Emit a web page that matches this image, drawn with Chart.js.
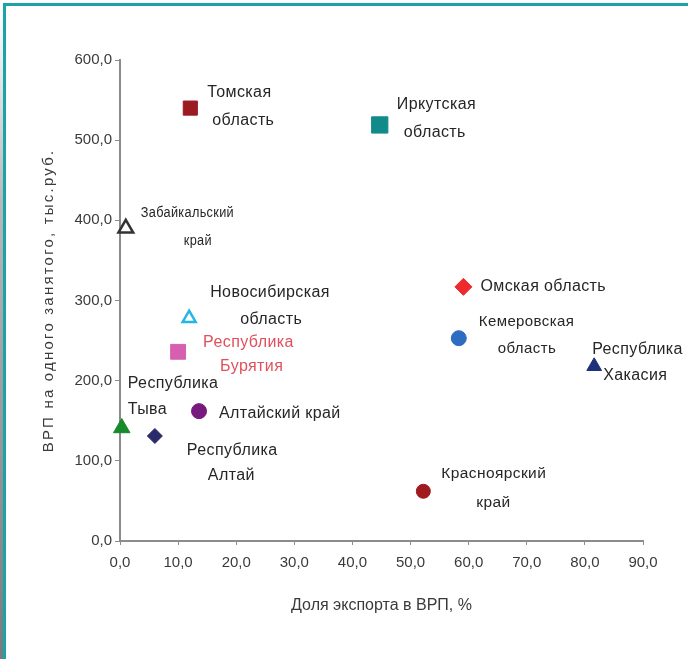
<!DOCTYPE html>
<html lang="ru">
<head>
<meta charset="utf-8">
<title>ВРП на одного занятого и доля экспорта в ВРП</title>
<script src="https://cdn.jsdelivr.net/npm/chart.js@4.4.1/dist/chart.umd.min.js"></script>
<style>
  html, body { margin: 0; padding: 0; background: #fff; }
  #wrap { position: relative; width: 688px; height: 659px; overflow: hidden; }
  #chart { position: absolute; left: 0; top: 0; }
  .frame { position: absolute; background: #1ca3a9; }
  #frameTop { left: 3px; top: 3px; width: 685px; height: 3px; }
  #frameLeft { left: 3px; top: 3px; width: 3px; height: 656px; }
  #shade { position: absolute; left: 0; top: 6px; width: 3px; height: 653px;
           background: linear-gradient(to bottom, #ffffff 0%, #b8b8b8 30%, #7a7a7a 100%); }
</style>
</head>
<body>
<div id="wrap">
  <canvas id="chart" width="688" height="659"></canvas>
  <div id="shade"></div>
  <div class="frame" id="frameTop"></div>
  <div class="frame" id="frameLeft"></div>
</div>
<script>
// Регионы Сибирского федерального округа
const regions = [
  'Томская область', 'Иркутская область', 'Забайкальский край',
  'Новосибирская область', 'Республика Бурятия', 'Омская область',
  'Кемеровская область', 'Республика Хакасия', 'Республика Тыва',
  'Алтайский край', 'Республика Алтай', 'Красноярский край'
];
// Доля экспорта в ВРП, %
const exportShare = [12.1, 44.7, 1.0, 11.9, 10.0, 59.1, 58.3, 81.6, 0.3, 13.6, 6.0, 52.2];
// ВРП на одного занятого, тыс. руб.
const grpPerWorker = [540, 519, 390, 278, 236, 317, 253, 218, 141, 162, 131, 62];

// Подписи точек (по строкам)
const labelLines = [
  ['Томская', 'область'], ['Иркутская', 'область'], ['Забайкальский', 'край'],
  ['Новосибирская', 'область'], ['Республика', 'Бурятия'], ['Омская область'],
  ['Кемеровская', 'область'], ['Республика', 'Хакасия'], ['Республика', 'Тыва'],
  ['Алтайский край'], ['Республика', 'Алтай'], ['Красноярский', 'край']
];

const xTickLabels = ['0,0', '10,0', '20,0', '30,0', '40,0', '50,0', '60,0', '70,0', '80,0', '90,0'];
const yTickLabels = ['0,0', '100,0', '200,0', '300,0', '400,0', '500,0', '600,0'];
const xTitle = 'Доля экспорта в ВРП, %';
const yTitle = 'ВРП на одного занятого, тыс.руб.';

// Оформление маркеров
const markerStyle = ['rect', 'rect', 'triangle', 'triangle', 'rect', 'rectRot',
                     'circle', 'triangle', 'triangle', 'circle', 'rectRot', 'circle'];
const markerRadius = [10, 11.5, 8.5, 7.5, 10.5, 8.5, 7.5, 8.5, 9.5, 7.5, 7.5, 7];
const markerFill = ['#9c1b22', '#138a8a', '#ffffff', '#ffffff', '#d65fb0', '#ee2a2f',
                    '#2d6cc0', '#1f3277', '#178a2c', '#78197e', '#2b2a6b', '#a11b1e'];
const markerStroke = ['#9c1b22', '#138a8a', '#333333', '#26b6e6', '#d65fb0', '#ee2a2f',
                      '#2d6cc0', '#1f3277', '#178a2c', '#78197e', '#2b2a6b', '#a11b1e'];
const markerBorder = [1, 1, 2.5, 2.5, 1, 1, 1, 1, 1, 1, 1, 1];

// Смещения строк подписей относительно маркера: [dx, dy] левого края / середины строки
const labelOffsets = [
  [[17, -16], [22, 12]],
  [[17, -20], [24, 8]],
  [[15, -16], [58, 12]],
  [[21, -26], [51, 1]],
  [[25, -9], [42, 15]],
  [[17, 0]],
  [[20, -16], [39, 11]],
  [[-2, -17], [9, 9]],
  [[6, -44], [6, -18]],
  [[20, 2]],
  [[32, 15], [53, 40]],
  [[18, -18], [53, 11]]
];
const labelSize = [16, 16, 15.5, 16, 16, 16, 15, 16, 16, 16, 16, 15.5];
// горизонтальное сжатие шрифта подписи
const labelStretch = [1, 1, 0.82, 1, 1, 1, 1, 1, 1, 1, 1, 1];
const labelColor = ['#262626', '#262626', '#262626', '#262626', '#e0505c', '#262626',
                    '#262626', '#262626', '#262626', '#262626', '#262626', '#262626'];

const FONT = "'Liberation Sans', Arial, sans-serif";
const AXIS_COLOR = '#8c8c8c';
const TEXT_COLOR = '#3a3a3a';

const pointLabels = {
  id: 'pointLabels',
  afterDatasetsDraw(chart) {
    const ctx = chart.ctx;
    const meta = chart.getDatasetMeta(0);
    meta.data.forEach((pt, i) => {
      labelLines[i].forEach((line, j) => {
        const [dx, dy] = labelOffsets[i][j];
        ctx.save();
        ctx.textAlign = 'left';
        ctx.textBaseline = 'middle';
        ctx.font = labelSize[i] + 'px ' + FONT;
        ctx.letterSpacing = '0.4px';
        ctx.fillStyle = labelColor[i];
        ctx.translate(pt.x + dx, pt.y + dy);
        ctx.scale(labelStretch[i], 1);
        ctx.fillText(line, 0, 0);
        ctx.restore();
      });
    });
  }
};

// Разрядка букв в подписи вертикальной оси
const spacedYTitle = {
  id: 'spacedYTitle',
  afterLayout(chart) {
    const scale = chart.scales.y;
    if (scale._spaced) return;
    const base = Object.getPrototypeOf(scale).drawTitle;
    scale.drawTitle = function () {
      const c = this.ctx;
      const prev = c.letterSpacing;
      c.letterSpacing = '2.2px';
      base.call(this);
      c.letterSpacing = prev;
    };
    scale._spaced = true;
  }
};

new Chart(document.getElementById('chart'), {
  type: 'scatter',
  data: {
    datasets: [{
      label: 'Регионы',
      data: regions.map((name, i) => ({ x: exportShare[i], y: grpPerWorker[i] })),
      pointStyle: markerStyle,
      pointRadius: markerRadius,
      pointHoverRadius: markerRadius,
      backgroundColor: markerFill,
      borderColor: markerStroke,
      borderWidth: markerBorder,
      clip: false
    }]
  },
  options: {
    responsive: false,
    animation: false,
    events: [],
    layout: { padding: { left: 36, top: 60, right: 45, bottom: 42 } },
    plugins: {
      legend: { display: false },
      tooltip: { enabled: false }
    },
    scales: {
      x: {
        type: 'linear',
        min: 0, max: 90,
        ticks: {
          stepSize: 10,
          color: TEXT_COLOR,
          font: { family: FONT, size: 15 },
          padding: 9,
          callback: (v, i) => xTickLabels[i]
        },
        grid: { drawOnChartArea: false, tickLength: 4, color: AXIS_COLOR, lineWidth: 1 },
        border: { color: AXIS_COLOR, width: 2 },
        title: {
          display: true, text: xTitle, color: TEXT_COLOR,
          font: { family: FONT, size: 16 }, padding: { top: 4, bottom: 2 }
        },
        afterFit: s => { s.height = 76; }
      },
      y: {
        type: 'linear',
        min: 0, max: 600,
        ticks: {
          stepSize: 100,
          color: TEXT_COLOR,
          font: { family: FONT, size: 15 },
          padding: 3,
          callback: (v, i) => yTickLabels[i]
        },
        grid: { drawOnChartArea: false, tickLength: 5, color: AXIS_COLOR, lineWidth: 1 },
        border: { color: AXIS_COLOR, width: 2 },
        title: {
          display: true, text: yTitle, color: TEXT_COLOR,
          font: { family: FONT, size: 15 }, padding: { top: 4, bottom: 4 }
        },
        afterFit: s => { s.width = 84; }
      }
    }
  },
  plugins: [pointLabels, spacedYTitle]
});
</script>
</body>
</html>
